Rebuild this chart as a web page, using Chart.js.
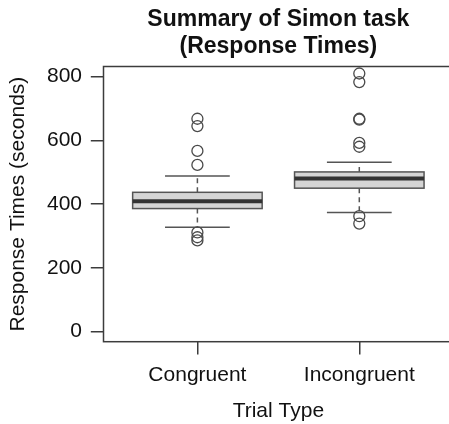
<!DOCTYPE html>
<html>
<head>
<meta charset="utf-8">
<script src="https://cdn.jsdelivr.net/npm/chart.js@4/dist/chart.umd.min.js"></script>
<style>
  html, body { margin:0; padding:0; background:#fff; overflow:hidden; }
  /* plot frame runs a few px past the right edge of the window, like the reference */
  #wrap { position:relative; width:460px; height:424px; }
</style>
</head>
<body>
<div id="wrap"><canvas id="simonChart"></canvas></div>
<script>
// ====== data ======
const CATEGORIES  = ["Congruent", "Incongruent"];
const WHISKER_LO  = [327, 374];
const Q1          = [386, 450];
const MEDIAN      = [409, 480];
const Q3          = [437, 501];
const WHISKER_HI  = [488, 531];
const OUTLIERS_CONGRUENT   = [668, 645, 567, 523, 311, 296, 286];
const OUTLIERS_INCONGRUENT = [810, 783, 668, 665, 592, 580, 362, 339];
const Y_TICKS = [0, 200, 400, 600, 800];
const TITLE_LINES = ["Summary of Simon task", "(Response Times)"];

// ====== style ======
const FONT  = "'Liberation Sans', Arial, Helvetica, sans-serif";
const INK   = "#111";
const LINE  = "#3c3c3c";

// R-like boxes, whiskers and medians, placed through the chart's scales
const boxPlugin = {
  id: "boxes",
  beforeDatasetsDraw(chart) {
    const {ctx, scales:{x, y}} = chart;
    ctx.save();
    CATEGORIES.forEach((name, i) => {
      const pos = i + 1;
      const cx = x.getPixelForValue(pos);
      const bl = x.getPixelForValue(pos - 0.4), br = x.getPixelForValue(pos + 0.4);
      const cl = x.getPixelForValue(pos - 0.2), cr = x.getPixelForValue(pos + 0.2);
      const yq1 = y.getPixelForValue(Q1[i]), yq3 = y.getPixelForValue(Q3[i]);
      const ylo = y.getPixelForValue(WHISKER_LO[i]), yhi = y.getPixelForValue(WHISKER_HI[i]);
      const ymed = y.getPixelForValue(MEDIAN[i]);

      // dashed whiskers
      ctx.strokeStyle = "#555";
      ctx.lineWidth = 1.5;
      ctx.setLineDash([5, 4]);
      ctx.beginPath();
      ctx.moveTo(cx, yq3); ctx.lineTo(cx, yhi);
      ctx.moveTo(cx, yq1); ctx.lineTo(cx, ylo);
      ctx.stroke();
      ctx.setLineDash([]);

      // staples
      ctx.beginPath();
      ctx.moveTo(cl, yhi); ctx.lineTo(cr, yhi);
      ctx.moveTo(cl, ylo); ctx.lineTo(cr, ylo);
      ctx.stroke();

      // box
      ctx.fillStyle = "#d5d5d5";
      ctx.fillRect(bl, yq3, br - bl, yq1 - yq3);
      ctx.strokeStyle = "#555";
      ctx.strokeRect(bl, yq3, br - bl, yq1 - yq3);

      // median
      ctx.strokeStyle = "#333";
      ctx.lineWidth = 4;
      ctx.beginPath();
      ctx.moveTo(bl, ymed); ctx.lineTo(br, ymed);
      ctx.stroke();
    });
    ctx.restore();
  }
};

// frame around plot region + two-line bold title centred on it
const framePlugin = {
  id: "frame",
  afterDraw(chart) {
    const {ctx, chartArea:a} = chart;
    ctx.save();
    ctx.strokeStyle = LINE;
    ctx.lineWidth = 1.5;
    ctx.strokeRect(a.left, a.top, a.right - a.left, a.bottom - a.top);

    ctx.fillStyle = INK;
    ctx.font = "bold 23px " + FONT;
    ctx.textAlign = "center";
    ctx.textBaseline = "alphabetic";
    const cx = (a.left + a.right) / 2;
    TITLE_LINES.forEach((t, i) => ctx.fillText(t, cx, 25.5 + i * 27.6));
    ctx.restore();
  }
};

const outlierStyle = {
  type: "scatter",
  pointRadius: 5.5,
  pointHoverRadius: 5.5,
  borderColor: "#4a4a4a",
  backgroundColor: "rgba(0,0,0,0)",
  borderWidth: 1.3,
  clip: false
};

new Chart(document.getElementById("simonChart"), {
  type: "scatter",
  data: {
    datasets: [
      { ...outlierStyle, label: CATEGORIES[0], data: OUTLIERS_CONGRUENT.map(v => ({x:1, y:v})) },
      { ...outlierStyle, label: CATEGORIES[1], data: OUTLIERS_INCONGRUENT.map(v => ({x:2, y:v})) }
    ]
  },
  options: {
    responsive: true, maintainAspectRatio: false, animation: false,
    layout: { padding: { top: 66.5, right: 4.6, left: 0, bottom: 0 } },
    plugins: { legend: { display:false }, tooltip: { enabled:false }, title: { display:false } },
    scales: {
      x: {
        type: "linear", min: 0.42, max: 2.58,
        afterBuildTicks: s => { s.ticks = CATEGORIES.map((c, i) => ({ value: i + 1 })); },
        afterFit: s => { s.height = 82.3; },
        border: { display:false },
        grid: { drawOnChartArea:false, drawTicks:true, tickLength:12.7, color:LINE, lineWidth:1.5 },
        ticks: { color:INK, font:{ family:FONT, size:21 }, padding:8, maxRotation:0,
                 callback: v => CATEGORIES[v - 1] },
        title: { display:true, text:"Trial Type", color:INK, font:{ family:FONT, size:21 },
                 padding:{ top:0, bottom:0 } }
      },
      y: {
        type: "linear", min: -32, max: 832,
        afterBuildTicks: s => { s.ticks = Y_TICKS.map(v => ({ value: v })); },
        afterFit: s => { s.width = 103.5; },
        border: { display:false },
        grid: { drawOnChartArea:false, drawTicks:true, tickLength:12.7, color:LINE, lineWidth:1.5 },
        ticks: { color:INK, font:{ family:FONT, size:21 }, padding:8.8 },
        title: { display:true, text:"Response Times (seconds)", color:INK, font:{ family:FONT, size:21 },
                 padding:{ top:5.5, bottom:0 } }
      }
    }
  },
  plugins: [boxPlugin, framePlugin]
});
</script>
</body>
</html>
